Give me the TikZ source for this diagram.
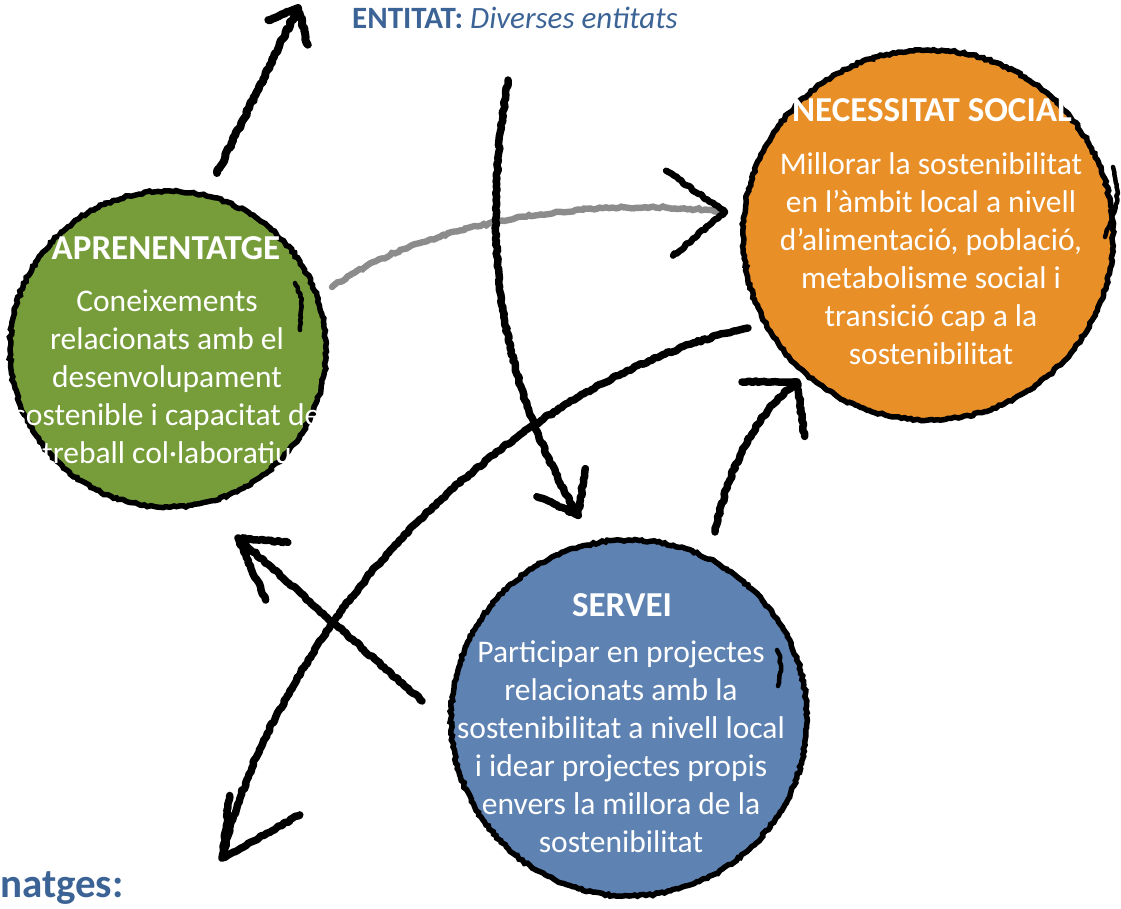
\documentclass[tikz,border=0pt]{standalone}
\usepackage{fontspec}
\setmainfont{Carlito}
\usetikzlibrary{positioning, decorations.pathmorphing}

\definecolor{learngreen}{RGB}{118,157,58}
\definecolor{needorange}{RGB}{233,143,40}
\definecolor{serveblue}{RGB}{94,130,178}
\definecolor{titleblue}{RGB}{60,99,150}

\begin{document}
\begin{tikzpicture}[x=1pt, y=-1pt,
    rough/.style = {decorate, decoration={random steps, segment length=3pt, amplitude=1.1pt}},
    ball/.style = {circle, draw=black, line width=5.5pt, rough, inner sep=0pt},
    heading/.style = {text=white, inner sep=0pt, font=\bfseries\fontsize{35}{42}\selectfont},
    blurb/.style = {text=white, align=center, inner sep=0pt, font=\fontsize{31.5}{38}\selectfont},
    sketch/.style = {draw=black, line width=7.5pt, line cap=round, line join=round, rough},
    chalk/.style = {draw=black!45, line width=6.5pt, line cap=round, rough, dash pattern=on 2pt off 1.2pt}]

    \pgfmathsetseed{7}
    \useasboundingbox (0,0) rectangle (1121,908);

    % Circles
    \node [ball, fill=learngreen, minimum size=316pt] (learn) at (168,349) {};
    \node [ball, fill=needorange, minimum size=370pt] (need)  at (928,235) {};
    \node [ball, fill=serveblue,  minimum size=356pt] (serve) at (629,718) {};

    % second strokes on the rims
    \draw [sketch, line width=4.5pt] (295,283) .. controls (303,300) .. (300,330);
    \draw [sketch, line width=4.5pt] (1113,167) .. controls (1119,200) .. (1105,237);
    \draw [sketch, line width=4.5pt] (777,650) .. controls (782,665) .. (778,686);

    % Texts
    \node [heading] (learnhead) at (166,248) {APRENENTATGE};
    \node [blurb] (learnbody) at (167,377) {Coneixements\\relacionats amb el\\desenvolupament\\sostenible i capacitat de\\treball col·laboratiu};

    \node [heading] (needhead) at (932,110) {NECESSITAT SOCIAL};
    \node [blurb] (needbody) at (931,259) {Millorar la sostenibilitat\\en l’àmbit local a nivell\\d’alimentació, població,\\metabolisme social i\\transició cap a la\\sostenibilitat};

    \node [heading] (servehead) at (622,605) {SERVEI};
    \node [blurb] (servebody) at (621,747) {Participar en projectes\\relacionats amb la\\sostenibilitat a nivell local\\i idear projectes propis\\envers la millora de la\\sostenibilitat};

    \node [anchor=base west, inner sep=0pt, text=titleblue, font=\fontsize{31}{36}\selectfont] (entity) at (352,28) {\textbf{ENTITAT:} \textit{Diverses entitats}};
    \node [anchor=base west, inner sep=0pt, text=titleblue, font=\bfseries\fontsize{41}{48}\selectfont] (cutword) at (0,897) {natges:};

    % Arrow ends
    \coordinate (learntop)   at (217,173);
    \coordinate (entityend)  at (298,8);
    \coordinate (learnright) at (332,287);
    \coordinate (needleft)   at (725,212);
    \coordinate (topstart)   at (508,80);
    \coordinate (servetop)   at (578,515);
    \coordinate (needlow)    at (748,328);
    \coordinate (bottomleft) at (222,858);
    \coordinate (serveleft)  at (422,701);
    \coordinate (learnlow)   at (238,538);
    \coordinate (serveright) at (715,532);
    \coordinate (needbottom) at (797,382);

    % Arrows
    \draw [sketch, line width=8pt] (learntop) -- (entityend) -- ++(158:32) (entityend) -- ++(75:38);
    \draw [chalk] (learnright) .. controls (420,225) and (580,195) .. (needleft);
    \draw [sketch, line width=6.5pt] (needleft) -- ++(215:72) (needleft) -- ++(140:68);
    \draw [sketch] (topstart) .. controls (480,250) and (500,380) .. (servetop) -- ++(204:45) (servetop) -- ++(-81:47);
    \draw [sketch] (needlow) .. controls (600,360) and (430,480) .. (330,627) .. controls (280,700) and (240,780) .. (bottomleft) -- ++(-83:63) (bottomleft) -- ++(-29:89);
    \draw [sketch] (serveleft) -- (learnlow) -- ++(5:50) (learnlow) -- ++(66:68);
    \draw [sketch] (serveright) .. controls (730,460) and (760,410) .. (needbottom) -- ++(180:55) (needbottom) -- ++(82:55);
\end{tikzpicture}
\end{document}
